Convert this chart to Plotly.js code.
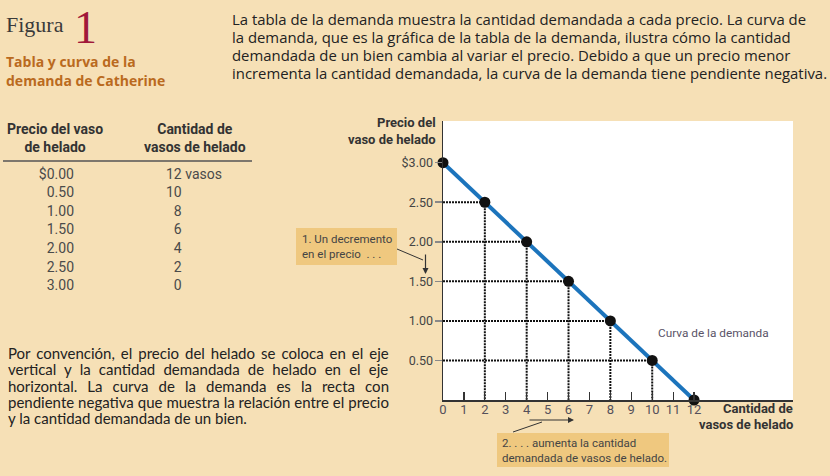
<!DOCTYPE html>
<html><head><meta charset="utf-8">
<script src="https://cdn.plot.ly/plotly-3.0.1.min.js"></script>
<style>html,body{margin:0;padding:0;background:#F6E0B6;}</style>
</head><body><div id="chart" style="width:830px;height:476px;"></div>
<script>
// ---- data ----
const prices = [0.00, 0.50, 1.00, 1.50, 2.00, 2.50, 3.00];
const quantities = [12, 10, 8, 6, 4, 2, 0];
const priceLabels = ['$0.00', '0.50', '1.00', '1.50', '2.00', '2.50', '3.00'];
const quantityLabels = ['12 vasos', '10', '\u20078', '\u20076', '\u20074', '\u20072', '\u20070'];
const xTickVals = [0, 1, 2, 3, 4, 5, 6, 7, 8, 9, 10, 11, 12];
const yTickVals = [0.5, 1.0, 1.5, 2.0, 2.5, 3.0];
const yTickText = ['0.50', '1.00', '1.50', '2.00', '2.50', '$3.00'];
const noteLines = [
  'Por convención, el precio del helado se coloca en el eje',
  'vertical y la cantidad demandada de helado en el eje',
  'horizontal. La curva de la demanda es la recta con',
  'pendiente negativa que muestra la relación entre el precio',
  'y la cantidad demandada de un bien.'
];
const introLines = [
  'La tabla de la demanda muestra la cantidad demandada a cada precio. La curva de',
  'la demanda, que es la gráfica de la tabla de la demanda, ilustra cómo la cantidad',
  'demandada de un bien cambia al variar el precio. Debido a que un precio menor',
  'incrementa la cantidad demandada, la curva de la demanda tiene pendiente negativa.'
];

// ---- helpers ----
const W = 830, H = 476;
const px = v => v / W;
const py = v => 1 - v / H;
const COND = 'Roboto, sans-serif';
const SANS = '"Open Sans", "Noto Sans", sans-serif';
const CAL = 'Lato, sans-serif';
const BG = '#F6E0B6';
const BOX = '#EFC87F';

// dotted guide lines from the schedule points (interior points)
const gx = [], gy = [];
prices.forEach((p, i) => {
  const q = quantities[i];
  if (p > 0 && q > 0) {
    gx.push(0, q, null, q, q, null);
    gy.push(p, p, null, p, 0, null);
  }
});

const rowIdx = prices.map((_, i) => i);

const traces = [
  {x: gx, y: gy, mode: 'lines', line: {color: '#111', width: 2, dash: '2px,1px'},
   hoverinfo: 'skip', showlegend: false, xaxis: 'x', yaxis: 'y'},
  {x: quantities, y: prices, mode: 'lines+markers', line: {color: '#1C74BC', width: 4},
   marker: {color: '#111', size: 11}, cliponaxis: false, showlegend: false, xaxis: 'x', yaxis: 'y'},
  {x: rowIdx.map(() => 74), y: rowIdx, text: priceLabels, mode: 'text', textposition: 'middle left',
   textfont: {family: COND, size: 14, color: '#4a4a4a'}, showlegend: false, xaxis: 'x2', yaxis: 'y2', cliponaxis: false},
  {x: rowIdx.map(() => 166), y: rowIdx, text: quantityLabels, mode: 'text', textposition: 'middle right',
   textfont: {family: COND, size: 14, color: '#4a4a4a'}, showlegend: false, xaxis: 'x2', yaxis: 'y2', cliponaxis: false}
];

function ann(text, x, y, opts) {
  return Object.assign({text: text, x: px(x), y: py(y), xref: 'paper', yref: 'paper',
    showarrow: false, xanchor: 'left', yanchor: 'middle', align: 'left'}, opts || {});
}
const HEAD = {family: COND, size: 14, color: '#333'};
const AXT = {family: COND, size: 13, color: '#333'};
const SMALL = {family: COND, size: 11.5, color: '#444'};

const annotations = [
  ann('Figura', 4, 24, {font: {family: '"Liberation Serif", serif', size: 22, color: '#3a3a3a'}}),
  ann('1', 72, 27, {font: {family: '"Liberation Serif", serif', size: 46, color: '#A0183A'}}),
  ann('<b>Tabla y curva de la</b>', 4, 62, {font: {family: SANS, size: 14, color: '#BA6A1E'}}),
  ann('<b>demanda de Catherine</b>', 4, 80, {font: {family: SANS, size: 14, color: '#BA6A1E'}}),
  // table header
  ann('<b>Precio del vaso<br>de helado</b>', 55, 137.5, {xanchor: 'center', align: 'center', font: HEAD}),
  ann('<b>Cantidad de<br>vasos de helado</b>', 195, 137.5, {xanchor: 'center', align: 'center', font: HEAD}),
  // axis titles
  ann('<b>Precio del</b>', 437, 123, {xanchor: 'right', align: 'right', font: AXT, borderpad: 0}),
  ann('<b>vaso de helado</b>', 437, 139, {xanchor: 'right', align: 'right', font: AXT, borderpad: 0}),
  ann('<b>Cantidad de</b>', 794, 408, {xanchor: 'right', align: 'right', font: AXT, borderpad: 0}),
  ann('<b>vasos de helado</b>', 794, 424, {xanchor: 'right', align: 'right', font: AXT, borderpad: 0}),
  ann('Curva de la demanda', 656, 333, {font: {family: COND, size: 11.8, color: '#5a5468'}}),
  // callout boxes
  ann('1. Un decremento<br>en el precio  . . .', 300, 246, {font: SMALL}),
  ann('2. . . . aumenta la cantidad<br>demandada de vasos de helado.', 500, 450.5, {font: SMALL}),
  // arrows
  {x: px(425.5), y: py(274), xref: 'paper', yref: 'paper', ax: px(425.5), ay: py(253), axref: 'paper', ayref: 'paper',
   text: '', showarrow: true, arrowhead: 2, arrowsize: 1, arrowwidth: 1.2, arrowcolor: '#333'},
  {x: px(574), y: py(420), xref: 'paper', yref: 'paper', ax: px(528), ay: py(420), axref: 'paper', ayref: 'paper',
   text: '', showarrow: true, arrowhead: 2, arrowsize: 1, arrowwidth: 1.2, arrowcolor: '#333'}
];

// intro paragraph (ragged right)
const introY = [19, 37, 55, 73];
introLines.forEach((t, i) => annotations.push(ann(t, 230, introY[i], {font: {family: SANS, size: 14.9, color: '#222'}})));

// bottom note paragraph, justified with word-spacing
const noteY = [353, 369, 386, 402, 418];
const noteSize = 15, noteL = 8, noteR = 389;
const cv = document.createElement('canvas').getContext('2d');
cv.font = noteSize + 'px Lato';
noteLines.forEach((line, i) => {
  const font = {family: CAL, size: noteSize, color: '#222'};
  let txt = line;
  if (i < noteLines.length - 1) {
    const spaces = line.split(' ').length - 1;
    const extra = Math.max(0, (noteR - noteL - cv.measureText(line).width) / spaces);
    txt = '<span style="word-spacing:' + extra.toFixed(2) + 'px">' + line + '</span>';
  }
  annotations.push(ann(txt, noteL - 1, noteY[i], {font: font, borderpad: 0}));
});

const shapes = [
  {type: 'rect', xref: 'paper', yref: 'paper', x0: px(443), x1: px(793), y0: py(400), y1: py(121),
   fillcolor: '#fff', line: {width: 0}, layer: 'below'},
  {type: 'line', xref: 'paper', yref: 'paper', x0: px(3), x1: px(252), y0: py(161), y1: py(161),
   line: {color: '#555', width: 1.5}},
  {type: 'rect', xref: 'paper', yref: 'paper', x0: px(296), x1: px(397), y0: py(265), y1: py(228),
   fillcolor: BOX, line: {width: 0}, layer: 'below'},
  {type: 'rect', xref: 'paper', yref: 'paper', x0: px(497), x1: px(669), y0: py(467), y1: py(433),
   fillcolor: BOX, line: {width: 0}, layer: 'below'},
  {type: 'line', xref: 'paper', yref: 'paper', x0: px(397), x1: px(423), y0: py(249), y1: py(260),
   line: {color: '#333', width: 1}},
  {type: 'line', xref: 'paper', yref: 'paper', x0: px(513), x1: px(542), y0: py(432), y1: py(422),
   line: {color: '#333', width: 1}}
];

const layout = {
  width: W, height: H,
  margin: {l: 0, r: 0, t: 0, b: 0},
  paper_bgcolor: BG, plot_bgcolor: 'rgba(0,0,0,0)',
  hovermode: false, showlegend: false,
  xaxis: {domain: [px(443), px(793)], range: [0, 16.73], tickvals: xTickVals, ticks: 'inside', ticklen: 8,
    tickcolor: '#333', tickwidth: 1.2, showline: true, linecolor: '#333', linewidth: 1.5, showgrid: false,
    zeroline: false, tickfont: {family: COND, size: 13, color: '#55505a'}, ticklabelstandoff: -3,
    anchor: 'y', fixedrange: true},
  yaxis: {domain: [py(400), py(121)], range: [0, 3.527], tickvals: yTickVals, ticktext: yTickText,
    ticks: 'outside', ticklen: 7, tickcolor: '#888', tickwidth: 1.5, showline: true, linecolor: '#333',
    linewidth: 1.5, showgrid: false, zeroline: false, tickfont: {family: COND, size: 12.5, color: '#444'},
    ticklabelstandoff: -1, anchor: 'x', fixedrange: true},
  xaxis2: {domain: [0, 1], range: [0, W], visible: false, anchor: 'y2', fixedrange: true},
  yaxis2: {domain: [0, 1], range: [(H - 175) / 18.6, -175 / 18.6], visible: false, anchor: 'x2', fixedrange: true},
  annotations: annotations,
  shapes: shapes
};

Plotly.newPlot('chart', traces, layout, {staticPlot: true, displayModeBar: false});
</script>
</body></html>
